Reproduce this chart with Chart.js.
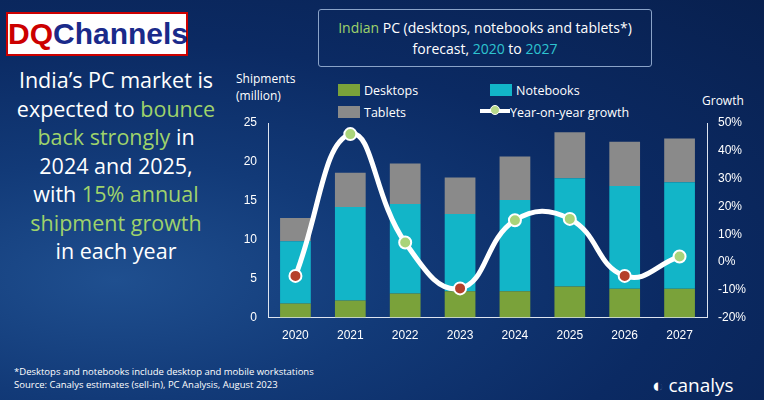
<html><head><meta charset="UTF-8">
<title>Indian PC forecast</title>
<style>
    body, html { margin: 0; padding: 0; width: 764px; height: 400px; overflow: hidden; font-family: 'Open Sans', sans-serif; }
    .page { position: relative; width: 764px; height: 400px;
        background: radial-gradient(ellipse at 15% 70%, #1f4f8f 0%, #123a78 30%, #0b2a63 60%, #08204f 100%); color: white; }
    .logo { position: absolute; left: 6px; top: 12px; width: 178px; height: 40px; background: #fff; border: 2px solid #c00;
        font: bold 30px 'Liberation Sans Narrow', 'Liberation Sans', sans-serif; line-height: 40px; text-align: center; color: #c00; }
    .logo span { color: #1a2a8a; }
    .lead { position: absolute; left: 0; top: 66px; width: 232px; text-align: center; font-size: 21.5px; line-height: 28.5px; white-space: nowrap; }
    .g { color: #9fd36b; }
    .title { position: absolute; left: 318px; top: 9px; width: 334px; height: 58px; border: 1px solid #8aa3c8; border-radius: 3px;
        text-align: center; font-size: 14px; line-height: 21px; padding-top: 7px; box-sizing: border-box; }
    .c { color: #2ec4d0; }
    .axt { position: absolute; font-size: 12px; line-height: 17px; }
    .legend { position: absolute; font-size: 12.5px; }
    .legend div { position: absolute; white-space: nowrap; }
    .sw { display: inline-block; width: 22px; height: 12px; vertical-align: -1px; margin-right: 4px; }
    #wrap { position: absolute; left: 230px; top: 110px; width: 534px; height: 236px; }
    .foot { position: absolute; left: 14px; top: 365px; font-size: 9.5px; line-height: 13px; }
    .canalys { position: absolute; left: 652px; top: 372px; font-size: 19px; }
</style>
<script src="https://cdn.jsdelivr.net/npm/chart.js"></script>
</head>
<body>
<div class="page">
    <div class="logo">DQ<span>Channels</span></div>
    <div class="lead">India’s PC market is<br>expected to <span class="g">bounce</span><br><span class="g">back strongly</span> in<br>2024 and 2025,<br>with <span class="g">15% annual</span><br><span class="g">shipment growth</span><br>in each year</div>
    <div class="title"><span class="g">Indian</span> PC (desktops, notebooks and tablets*)<br>forecast, <span class="c">2020</span> to <span class="c">2027</span></div>
    <div class="axt" style="left:236px;top:70px;">Shipments<br>(million)</div>
    <div class="axt" style="left:702px;top:92px;">Growth</div>
    <div class="legend">
        <div style="left:338px;top:82px;"><span class="sw" style="background:#7aa23a"></span>Desktops</div>
        <div style="left:490px;top:82px;"><span class="sw" style="background:#12b5c8"></span>Notebooks</div>
        <div style="left:338px;top:104px;"><span class="sw" style="background:#8a8a8a"></span>Tablets</div>
        <div style="left:480px;top:104px;">
            <span style="display:inline-block;width:30px;height:4px;background:#fff;vertical-align:4px;position:relative;">
            <span style="position:absolute;left:10px;top:-4px;width:10px;height:10px;border-radius:50%;background:#b7d98a;border:1px solid #fff;box-sizing:border-box;"></span></span>Year-on-year growth</div>
    </div>
    <div id="wrap"><canvas id="chart"></canvas></div>
    <div class="foot">*Desktops and notebooks include desktop and mobile workstations<br>Source: Canalys estimates (sell-in), PC Analysis, August 2023</div>
    <div class="canalys">&#9680; canalys</div>
</div>
<script>
    const years = ['2020', '2021', '2022', '2023', '2024', '2025', '2026', '2027'];
    const desktops = [1.8, 2.2, 3.1, 3.4, 3.4, 4.0, 3.7, 3.7];
    const notebooks = [8.0, 12.0, 11.5, 9.9, 11.7, 13.9, 13.2, 13.7];
    const tablets = [3.0, 4.4, 5.2, 4.7, 5.6, 5.9, 5.7, 5.6];
    const growth = [-5, 46, 7, -9.5, 15, 15.5, -5, 2];

    const pointColors = growth.map(v => v < 0 ? '#b5402a' : '#a9d47a');

    new Chart(document.getElementById('chart'), {
        type: 'bar',
        data: {
            labels: years,
            datasets: [
                { type: 'line', label: 'Year-on-year growth', data: growth, yAxisID: 'y2', borderColor: '#fff', borderWidth: 5,
                  tension: 0.45, pointRadius: 6, pointBackgroundColor: pointColors, pointBorderColor: '#fff', pointBorderWidth: 2, order: 0 },
                { label: 'Desktops', data: desktops, backgroundColor: '#7aa23a', stack: 's', order: 1 },
                { label: 'Notebooks', data: notebooks, backgroundColor: '#12b5c8', stack: 's', order: 1 },
                { label: 'Tablets', data: tablets, backgroundColor: '#8a8a8a', stack: 's', order: 1 }
            ]
        },
        options: {
            responsive: true, maintainAspectRatio: false, animation: false,
            layout: { padding: { top: 13, right: 0 } },
            plugins: { legend: { display: false }, tooltip: { enabled: false } },
            datasets: { bar: { categoryPercentage: 1, barPercentage: 0.56 } },
            scales: {
                x: { stacked: true, grid: { display: false }, border: { color: '#dde4f0' },
                     ticks: { color: '#fff', font: { size: 12 } } },
                y: { stacked: true, min: 0, max: 25, grid: { display: false },
                     border: { color: '#dde4f0' },
                     ticks: { stepSize: 5, color: '#fff', font: { size: 12 } },
                     afterFit: s => { s.width = 38; } },
                y2: { position: 'right', min: -20, max: 50, grid: { display: false },
                      border: { color: '#dde4f0' },
                      ticks: { stepSize: 10, color: '#fff', font: { size: 12 }, callback: v => v + '%' },
                      afterFit: s => { s.width = 57; } }
            }
        }
    });
</script>
</body>
</html>
